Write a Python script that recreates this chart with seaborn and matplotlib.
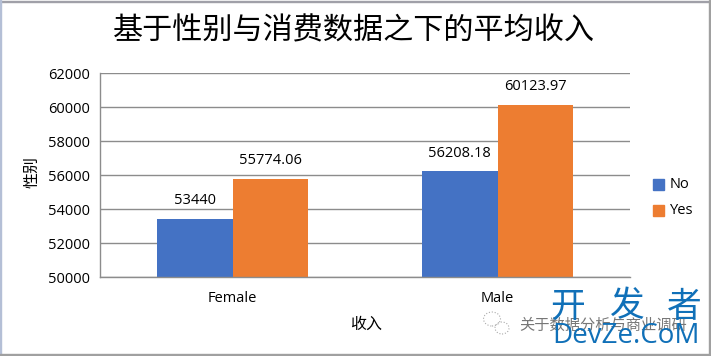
import matplotlib
matplotlib.use("Agg")
import matplotlib.pyplot as plt
from matplotlib.patches import Rectangle, Ellipse
import seaborn as sns
import pandas as pd

genders = ["Female", "Female", "Male", "Male"]
consume = ["No", "Yes", "No", "Yes"]
income = [53440, 55774.06, 56208.18, 60123.97]
value_labels = ["53440", "55774.06", "56208.18", "60123.97"]
palette = {"No": "#4472C4", "Yes": "#ED7D31"}
title = "基于性别与消费数据之下的平均收入"
xlabel = "收入"
ylabel = "性别"

sns.set_theme(style="white")
plt.rcParams["font.family"] = ["Noto Sans CJK SC", "DejaVu Sans"]
W, H = 711, 356
latin = ["Open Sans", "DejaVu Sans"]
fig = plt.figure(figsize=(W / 100, H / 100), dpi=100, facecolor="white")
ax = fig.add_axes([100 / W, 1 - 277 / H, 530 / W, 204 / H])
df = pd.DataFrame({"g": genders, "c": consume, "v": income})
sns.barplot(data=df, x="g", y="v", hue="c", palette=palette, width=0.57, gap=0,
            saturation=1, ax=ax, legend=False, errorbar=None, linewidth=0)
ax.set_ylim(50000, 62000)
ax.set_xlim(-0.5, 1.5)
ax.set_yticks(range(50000, 62001, 2000))
ax.yaxis.grid(True, color="#8C8C8C", lw=1)
ax.set_axisbelow(True)
for s in ["top", "right"]:
    ax.spines[s].set_visible(False)
for s in ["left", "bottom"]:
    ax.spines[s].set_color("#8C8C8C")
    ax.spines[s].set_linewidth(1)
ax.tick_params(axis="both", length=0, labelcolor="black")
ax.tick_params(axis="y", pad=7, labelsize=10.5)
ax.tick_params(axis="x", pad=10, labelsize=10.5)
for lab in ax.get_xticklabels() + ax.get_yticklabels():
    lab.set_family(latin)
ax.set_xlabel("")
ax.set_ylabel("")
fig.text(366 / W, 1 - 324 / H, xlabel, fontsize=11.5, weight=500, ha="center", va="center", color="black")
fig.text(32 / W, 1 - 172 / H, ylabel, fontsize=11.5, weight=500, rotation=90, ha="center", va="center", color="black")

pairs = [b for b in ax.patches if b.get_height() > 0]
pairs.sort(key=lambda b: b.get_x())
for b, t in zip(pairs, value_labels):
    ax.annotate(t, (b.get_x() + b.get_width() / 2, b.get_height()), xytext=(0, 7.5),
                textcoords="offset points", ha="center", va="bottom", fontsize=10.5,
                family=latin, color="black")

fig.text(354 / W, 1 - 31 / H, title, fontsize=21.7, weight=500, ha="center", va="center", color="black")

# legend
for name, y in zip(["No", "Yes"], [185, 211]):
    fig.add_artist(Rectangle((653 / W, 1 - (y + 5) / H), 11 / W, 11 / H, color=palette[name],
                             transform=fig.transFigure))
    fig.text(670 / W, 1 - y / H, name, fontsize=10.5, va="center", color="black", family=latin)

# frame of the screenshot
fig.add_artist(Rectangle((0, 1 - 2 / H), 1, 1 / H, color="#A0A0A8", transform=fig.transFigure))
fig.add_artist(Rectangle((0, 0), 1.5 / W, 1, color="#B4BFD6", transform=fig.transFigure))
fig.add_artist(Rectangle((709 / W, 0), 1 / W, 1, color="#A0A0A0", transform=fig.transFigure))
fig.add_artist(Rectangle((0, 1 / H), 1, 1 / H, color="#A0A0A0", transform=fig.transFigure))

# watermark
fig.text(519 / W, 1 - 325 / H, "关于数据分析与商业调研", fontsize=11, va="center", color="#777777")
for cx, cy, w, h in [(492, 319, 17, 14), (502, 328, 14, 12)]:
    fig.add_artist(Ellipse((cx / W, 1 - cy / H), w / W, h / H, fill=False, ec="#AAAAAA", lw=0.8,
                           ls=":", transform=fig.transFigure))
for ch, cx in zip("开发者", [568, 627, 684]):
    fig.text(cx / W, 1 - 307 / H, ch, fontsize=25, ha="center", va="center", color="#1070B8")
fig.text(626 / W, 1 - 336 / H, "DevZe.CoM", fontsize=20, ha="center", va="center", color="#1070B8",
         family=latin)

fig.savefig("out.png", dpi=100)
